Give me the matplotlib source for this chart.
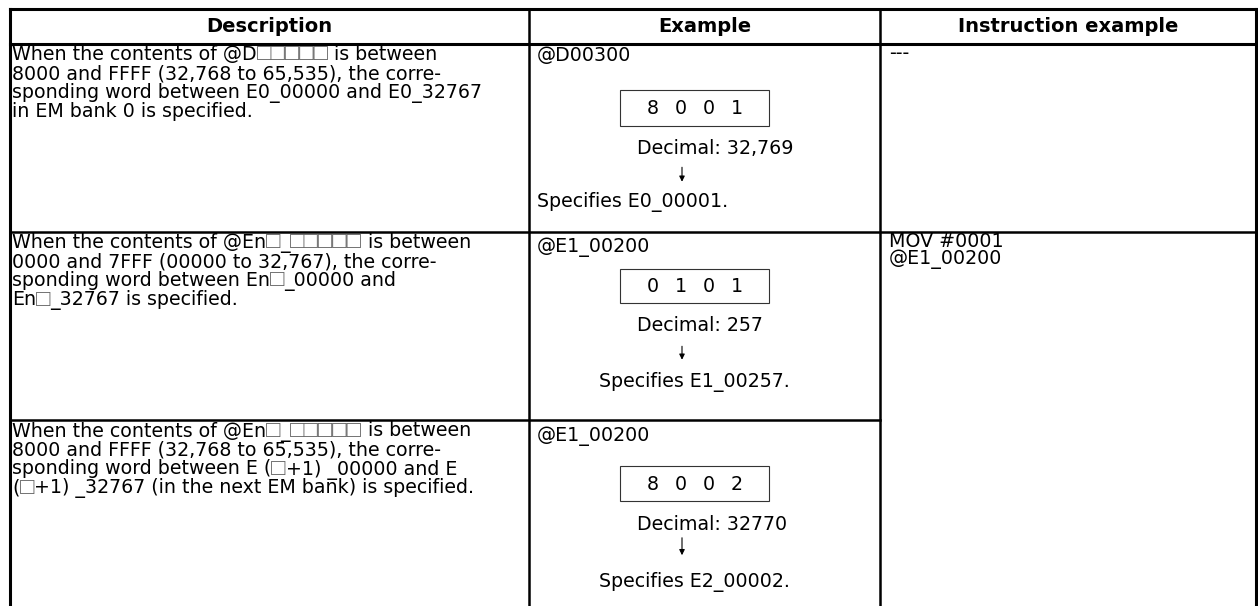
import matplotlib
import matplotlib.pyplot as plt

matplotlib.use("Agg")

W, H = 1258, 606

headers = ["Description", "Example", "Instruction example"]

descriptions = [
    ["When the contents of @D\u25a1\u25a1\u25a1\u25a1\u25a1 is between",
     "8000 and FFFF (32,768 to 65,535), the corre-",
     "sponding word between E0_00000 and E0_32767",
     "in EM bank 0 is specified."],
    ["When the contents of @En\u25a1_\u25a1\u25a1\u25a1\u25a1\u25a1 is between",
     "0000 and 7FFF (00000 to 32,767), the corre-",
     "sponding word between En\u25a1_00000 and",
     "En\u25a1_32767 is specified."],
    ["When the contents of @En\u25a1_\u25a1\u25a1\u25a1\u25a1\u25a1 is between",
     "8000 and FFFF (32,768 to 65,535), the corre-",
     "sponding word between E (\u25a1+1) _00000 and E",
     "(\u25a1+1) _32767 (in the next EM bank) is specified."],
]

addresses = ["@D00300", "@E1_00200", "@E1_00200"]
contents = [["8", "0", "0", "1"], ["0", "1", "0", "1"], ["8", "0", "0", "2"]]
decimals = ["Decimal: 32,769", "Decimal: 257", "Decimal: 32770"]
results = ["Specifies E0_00001.", "Specifies E1_00257.", "Specifies E2_00002."]

instructions = [["---"], ["MOV #0001", "@E1_00200"]]

FONT = ["DejaVu Sans"]
SQ_FONT = ["Liberation Sans", "DejaVu Sans"]
SQ = "\u25a1"
FS = 13.7
BASE = 6.5  # distance from a line's visual centre down to its baseline

fig = plt.figure(figsize=(W / 100, H / 100), dpi=100)
ax = fig.add_axes([0, 0, 1, 1])
ax.set_xlim(0, W)
ax.set_ylim(H, 0)
ax.axis("off")
renderer = fig.canvas.get_renderer()


def put(x, y, s, ha="left", **kw):
    return ax.text(x, y + BASE, s, ha=ha, va="baseline", fontsize=FS,
                   family=FONT, **kw)


def put_runs(x, y, s):
    # squares come from a narrower font, so draw the line piece by piece
    runs, cur = [], ""
    for ch in s:
        if cur and ((ch == SQ) != (cur[-1] == SQ)):
            runs.append(cur)
            cur = ""
        cur += ch
    runs.append(cur)
    inv = ax.transData.inverted()
    for run in runs:
        if run[0] == SQ:
            t = ax.text(x, y + BASE + 0.5, run, ha="left", va="baseline",
                        fontsize=FS * 1.25, family=SQ_FONT, color="#666666")
        else:
            t = put(x, y, run)
        bb = t.get_window_extent(renderer)
        x = inv.transform((bb.x1, bb.y0))[0]


# grid
x_left, x_c1, x_c2, x_right = 9.5, 529, 880, 1255.5
y_top, y_head, y_r1, y_r2 = 8.5, 43.5, 231.5, 420
thick = 2.2
ax.plot([x_left, x_right], [y_top, y_top], color="black", lw=thick)
ax.plot([x_left, x_right], [y_head, y_head], color="black", lw=thick)
ax.plot([x_left, x_right], [y_r1, y_r1], color="black", lw=1.8)
ax.plot([x_left, x_c2], [y_r2, y_r2], color="black", lw=1.8)
for x in (x_left, x_right):
    ax.plot([x, x], [y_top, H], color="black", lw=thick)
for x in (x_c1, x_c2):
    ax.plot([x, x], [y_top, H], color="black", lw=1.8)

# header
for label, (a, b) in zip(headers, [(x_left, x_c1), (x_c1, x_c2), (x_c2, x_right)]):
    ax.text((a + b) / 2, 26.5, label, ha="center", va="center",
            fontsize=14, fontweight="bold", family=FONT)

# description column
row_tops = [y_head, y_r1, y_r2]
for top, lines in zip(row_tops, descriptions):
    for i, line in enumerate(lines):
        put_runs(12, top + 10 + i * 19, line)

# example column
layouts = [
    dict(addr=11, box=(46, 82), dec=104, arrow=(121, 141), res=157, res_x=None),
    dict(addr=14, box=(37, 71), dec=93, arrow=(112, 131), res=149, res_x=694),
    dict(addr=15, box=(46, 81), dec=103, arrow=(115, 138), res=160, res_x=694),
]
box_x0, box_x1 = 620, 769
for top, lay, addr, digits, dec, res in zip(row_tops, layouts, addresses,
                                             contents, decimals, results):
    put(537, top + lay["addr"], addr)
    b0, b1 = top + lay["box"][0], top + lay["box"][1]
    ax.add_patch(plt.Rectangle((box_x0, b0), box_x1 - box_x0, b1 - b0,
                               fill=False, edgecolor="#333333", lw=0.8))
    cx = (box_x0 + box_x1) / 2
    for j, d in enumerate(digits):
        put(cx + (j - 1.5) * 28, (b0 + b1) / 2, d, ha="center")
    put(637, top + lay["dec"], dec)
    a0, a1 = top + lay["arrow"][0], top + lay["arrow"][1]
    ax.annotate("", xy=(682, a1), xytext=(682, a0),
                arrowprops=dict(arrowstyle="-|>", color="black", lw=0.8,
                                mutation_scale=8))
    if lay["res_x"] is None:
        put(537, top + lay["res"], res)
    else:
        put(lay["res_x"], top + lay["res"], res, ha="center")

# instruction column
for top, lines in zip(row_tops[:2], instructions):
    for i, line in enumerate(lines):
        put(889, top + 9 + i * 17, line)

fig.savefig("out.png", dpi=100)
